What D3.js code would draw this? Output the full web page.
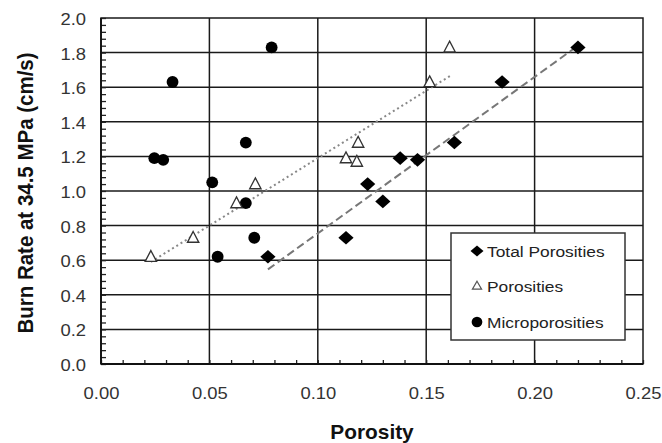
<!DOCTYPE html>
<html>
<head>
<meta charset="utf-8">
<script src="https://cdn.jsdelivr.net/npm/d3@7"></script>
<style>
  body { margin: 0; background: #fff; }
  svg { display: block; font-family: "Liberation Sans", Arial, Helvetica, sans-serif; }
</style>
</head>
<body>
<div id="chart"></div>
<script>
// values
var totalPorosity = [0.077, 0.113, 0.123, 0.130, 0.138, 0.146, 0.163, 0.185, 0.220];
var totalRate     = [0.62,  0.73,  1.04,  0.94,  1.19,  1.18,  1.28,  1.63,  1.83];

var porosity      = [0.023, 0.0425, 0.0625, 0.0712, 0.113, 0.118, 0.1186, 0.1516, 0.1608];
var porosityRate  = [0.62,  0.73,   0.93,   1.04,   1.19,  1.17,  1.28,   1.63,   1.83];

var microPorosity = [0.0246, 0.0287, 0.033, 0.0513, 0.0668, 0.0787, 0.0668, 0.0538, 0.0707];
var microRate     = [1.19,   1.18,   1.63,  1.05,   1.28,   1.83,   0.93,   0.62,   0.73];

// trend line end points
var porosityTrendX = [0.023, 0.161];
var porosityTrendY = [0.59, 1.665];
var totalTrendX = [0.077, 0.220];
var totalTrendY = [0.547, 1.84];

var xTicks = [0, 0.05, 0.10, 0.15, 0.20, 0.25];
var yTicks = [0, 0.2, 0.4, 0.6, 0.8, 1.0, 1.2, 1.4, 1.6, 1.8, 2.0];
var legendLabels = ["Total Porosities", "Porosities", "Microporosities"];

var W = 662, H = 443;
var pLeft = 101, pTop = 18, pRight = 643, pBottom = 364;
var stretch = 1.15; // the source figure is a bit wider than tall, text included

var svg = d3.select('#chart').append('svg').attr('width', W).attr('height', H);

var x = d3.scaleLinear().domain([0, 0.25]).range([pLeft, pRight]);
var y = d3.scaleLinear().domain([0, 2.0]).range([pBottom, pTop]);

// grid lines
var grid = svg.append('g').attr('class', 'grid');
grid.selectAll('.vgrid').data(xTicks.slice(1, -1)).enter().append('line')
  .attr('x1', d => x(d)).attr('x2', d => x(d)).attr('y1', pTop).attr('y2', pBottom)
  .attr('stroke', '#1a1a1a').attr('stroke-width', 1.5);
grid.selectAll('.hgrid').data(yTicks.slice(1, -1)).enter().append('line')
  .attr('y1', d => y(d)).attr('y2', d => y(d)).attr('x1', pLeft).attr('x2', pRight)
  .attr('stroke', '#1a1a1a').attr('stroke-width', 1.5);

// frame
svg.append('rect').attr('x', pLeft).attr('y', pTop).attr('width', pRight - pLeft).attr('height', pBottom - pTop)
  .attr('fill', 'none').attr('stroke', '#1a1a1a').attr('stroke-width', 1.5);

// minor ticks (inward)
var xMinor = d3.axisBottom(x).tickValues(d3.range(0, 0.2501, 0.01)).tickSize(-4).tickFormat('');
svg.append('g').attr('transform', 'translate(0,' + pBottom + ')').call(xMinor)
  .call(g => g.select('.domain').remove())
  .selectAll('line').attr('stroke', '#222').attr('stroke-width', 1.3);
var yMinor = d3.axisLeft(y).tickValues(d3.range(0, 2.001, 0.04)).tickSize(-5).tickFormat('');
svg.append('g').attr('transform', 'translate(' + pLeft + ',0)').call(yMinor)
  .call(g => g.select('.domain').remove())
  .selectAll('line').attr('stroke', '#222').attr('stroke-width', 1.3);

// thicker axis lines
svg.append('line').attr('x1', pLeft).attr('x2', pRight).attr('y1', pBottom).attr('y2', pBottom)
  .attr('stroke', '#111').attr('stroke-width', 2.2);
svg.append('line').attr('x1', pLeft).attr('x2', pLeft).attr('y1', pTop).attr('y2', pBottom)
  .attr('stroke', '#111').attr('stroke-width', 1.8);

// tick labels
var xAxis = d3.axisBottom(x).tickValues(xTicks).tickSize(0).tickPadding(24).tickFormat(d3.format('.2f'));
svg.append('g').attr('transform', 'translate(0,' + pBottom + ')').call(xAxis)
  .call(g => g.select('.domain').remove())
  .selectAll('text').style('font-size', '16px').style('font-family', 'inherit').attr('fill', '#333')
  .attr('transform', 'scale(' + stretch + ',1)');
var yAxis = d3.axisLeft(y).tickValues(yTicks).tickSize(0).tickPadding(13).tickFormat(d3.format('.1f'));
svg.append('g').attr('transform', 'translate(' + pLeft + ',0)').call(yAxis)
  .call(g => g.select('.domain').remove())
  .selectAll('text').style('font-size', '16px').style('font-family', 'inherit').attr('fill', '#333')
  .attr('dy', '0.4em').attr('transform', 'scale(' + stretch + ',1)');

// axis titles
svg.append('text').attr('transform', 'translate(' + ((pLeft + pRight) / 2) + ',439) scale(1.07,1)')
  .attr('text-anchor', 'middle')
  .style('font-size', '19.5px').style('font-weight', 'bold').attr('fill', '#111').text('Porosity');
svg.append('text').attr('transform', 'translate(33,' + ((pTop + pBottom) / 2 + 2) + ') rotate(-90) scale(1,1.1)')
  .attr('text-anchor', 'middle').style('font-size', '20.5px').style('font-weight', 'bold').attr('fill', '#111')
  .text('Burn Rate at 34.5 MPa (cm/s)');

// trend lines
var line = d3.line().x(d => x(d[0])).y(d => y(d[1]));
svg.append('path').datum(d3.zip(porosityTrendX, porosityTrendY)).attr('d', line)
  .attr('fill', 'none').attr('stroke', '#888').attr('stroke-width', 2).attr('stroke-dasharray', '2,3');
svg.append('path').datum(d3.zip(totalTrendX, totalTrendY)).attr('d', line)
  .attr('fill', 'none').attr('stroke', '#777').attr('stroke-width', 2).attr('stroke-dasharray', '8,4');

// markers
var diamond = d3.symbol().type(d3.symbolDiamond2).size(118);
var triangle = d3.symbol().type(d3.symbolTriangle2).size(92);
var circle = d3.symbol().type(d3.symbolCircle).size(110);

svg.append('g').selectAll('path').data(d3.zip(microPorosity, microRate)).enter().append('path')
  .attr('d', circle).attr('transform', d => 'translate(' + x(d[0]) + ',' + y(d[1]) + ')').attr('fill', '#000');
svg.append('g').selectAll('path').data(d3.zip(porosity, porosityRate)).enter().append('path')
  .attr('d', triangle).attr('transform', d => 'translate(' + x(d[0]) + ',' + (y(d[1]) + 1) + ') scale(1,1.1)')
  .attr('fill', '#fff').attr('stroke', '#333').attr('stroke-width', 1.3);
svg.append('g').selectAll('path').data(d3.zip(totalPorosity, totalRate)).enter().append('path')
  .attr('d', diamond).attr('transform', d => 'translate(' + x(d[0]) + ',' + y(d[1]) + ') scale(1.12,1)').attr('fill', '#000');

// legend
var lg = svg.append('g').attr('transform', 'translate(451,233)');
lg.append('rect').attr('width', 174).attr('height', 107).attr('fill', '#fff').attr('stroke', '#333').attr('stroke-width', 1.5);
var legendSymbols = [
  d3.symbol().type(d3.symbolDiamond2).size(75),
  d3.symbol().type(d3.symbolTriangle2).size(60),
  d3.symbol().type(d3.symbolCircle).size(90)
];
legendLabels.forEach(function(t, i) {
  var cy = 18 + i * 35.5;
  var m = lg.append('path').attr('d', legendSymbols[i])
    .attr('transform', 'translate(26,' + cy + ')' + (i == 0 ? ' scale(1.2,1)' : ''));
  if (i == 1) m.attr('fill', '#fff').attr('stroke', '#555').attr('stroke-width', 1.2);
  else m.attr('fill', '#000');
  lg.append('text').attr('transform', 'translate(36,' + cy + ') scale(1.12,1)').attr('dy', '0.36em')
    .style('font-size', '15.5px').attr('fill', '#222').text(t);
});
</script>
</body>
</html>
